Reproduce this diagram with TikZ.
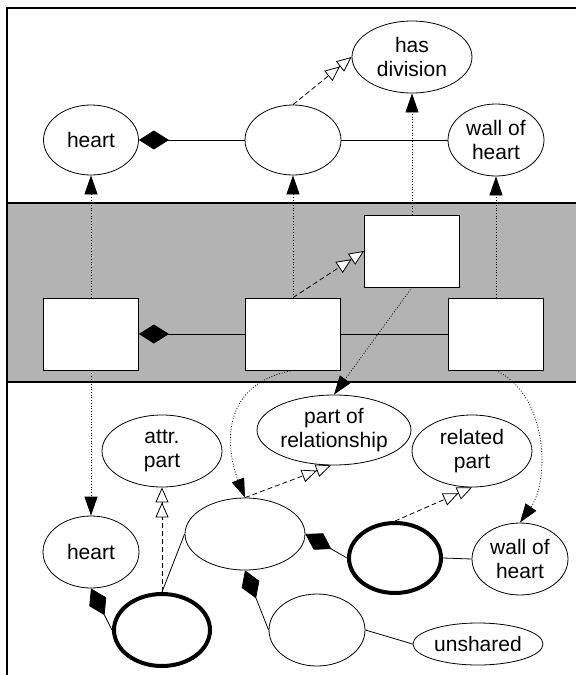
\documentclass[tikz,border=0pt]{standalone}
\usepackage{fontspec}
\setmainfont{Liberation Sans}
\usetikzlibrary{shapes.geometric,arrows.meta}
\definecolor{bandgray}{HTML}{B3B3B3}
\tikzset{
  ell/.style={ellipse, draw, fill=white, inner sep=0pt, align=center, line width=0.8pt},
  thk/.style={ellipse, draw, fill=white, inner sep=0pt, line width=4pt},
  bx/.style={rectangle, draw, fill=white, minimum width=95pt, minimum height=72pt, line width=0.8pt},
  thin/.style={line width=0.8pt},
  dotline/.style={line width=0.8pt, dash pattern=on 0.9pt off 1.8pt, -{Triangle[length=19pt,width=13pt]}},
  spec/.style={line width=0.8pt, dash pattern=on 5pt off 3pt, -{Triangle[length=15pt,width=13pt,fill=white] Triangle[length=15pt,width=13pt,fill=white]}},
  comp/.style={line width=0.8pt, {Diamond[length=30pt,width=19pt]}-},
}
\begin{document}
\begin{tikzpicture}[x=1pt,y=-1pt,font=\fontsize{21}{24}\selectfont]
\useasboundingbox (0,0) rectangle (576,675);
% band and frame
\fill[bandgray] (7,203) rectangle (576,382);
\draw[line width=1.1pt] (7,203) -- (576,203);
\draw[line width=1.1pt] (7,382) -- (576,382);
\draw[line width=1.1pt] (576,8) -- (7,8) -- (7,675);

% top row
\node[ell, minimum width=95pt, minimum height=70pt] (hT) at (91,140) {heart};
\node[ell, minimum width=96pt, minimum height=70pt] (mT) at (293,140) {};
\node[ell, minimum width=96pt, minimum height=72pt] (wT) at (496,140) {wall of\\heart};
\node[ell, minimum width=120pt, minimum height=72pt] (hd) at (412,57) {has\\division};

% boxes
\node[bx] (bL) at (91,334) {};
\node[bx] (bM) at (293,334) {};
\node[bx] (bR) at (496,334) {};
\node[bx] (bU) at (412,251) {};

% lower
\node[ell, minimum width=96pt, minimum height=72pt] (hL) at (91,552) {heart};
\node[ell, minimum width=120pt, minimum height=72pt] (ap) at (162,451) {attr.\\part};
\node[ell, minimum width=154pt, minimum height=70pt] (pr) at (334,430) {part of\\relationship};
\node[ell, minimum width=120pt, minimum height=72pt] (rp) at (472,451) {related\\part};
\node[ell, minimum width=120pt, minimum height=72pt] (mL) at (245,534) {};
\node[thk, minimum width=92pt, minimum height=70pt] (tR) at (395,558) {};
\node[ell, minimum width=96pt, minimum height=72pt] (wL) at (520,559) {wall of\\heart};
\node[thk, minimum width=96pt, minimum height=72pt] (tB) at (162,630) {};
\node[ell, minimum width=96pt, minimum height=72pt] (eB) at (317,630) {};
\node[ell, minimum width=130pt, minimum height=42pt] (us) at (478,644) {unshared};

% top connections
\draw[comp] (hT) -- (mT);
\draw[thin] (mT) -- (wT);
\draw[spec] (mT.north) -- (hd.west);

% band connections
\draw[comp] (bL) -- (bM);
\draw[thin] (bM) -- (bR);
\draw[spec] (bM.north) -- (bU.west);

% dotted vertical
\draw[dotline] (bL.north) -- (hT.south);
\draw[dotline] (bM.north) -- (mT.south);
\draw[dotline] (bU.north) -- (hd.south);
\draw[dotline] (bR.north) -- (wT.south);
\draw[dotline] (bL.south) -- (hL.north);
\draw[dotline] (bU.south) -- (pr.north);
\draw[dotline] (bM.south) .. controls (215,385) and (228,455) .. (mL.north);
\draw[dotline] (bR.south) .. controls (548,395) and (550,480) .. (wL.north);

% lower connections
\draw[comp] (hL.south) -- (tB.west);
\draw[spec] (tB.north) -- (ap.south);
\draw[thin] (tB.north) -- (mL.west);
\draw[comp] (mL.east) -- (tR.west);
\draw[comp] (mL.south) -- (eB.west);
\draw[spec] (mL.north) -- (pr.265);
\draw[spec] (tR.north) -- (rp.south);
\draw[thin] (tR.east) -- (wL.west);
\draw[thin] (eB.east) -- (us.west);
\end{tikzpicture}
\end{document}
